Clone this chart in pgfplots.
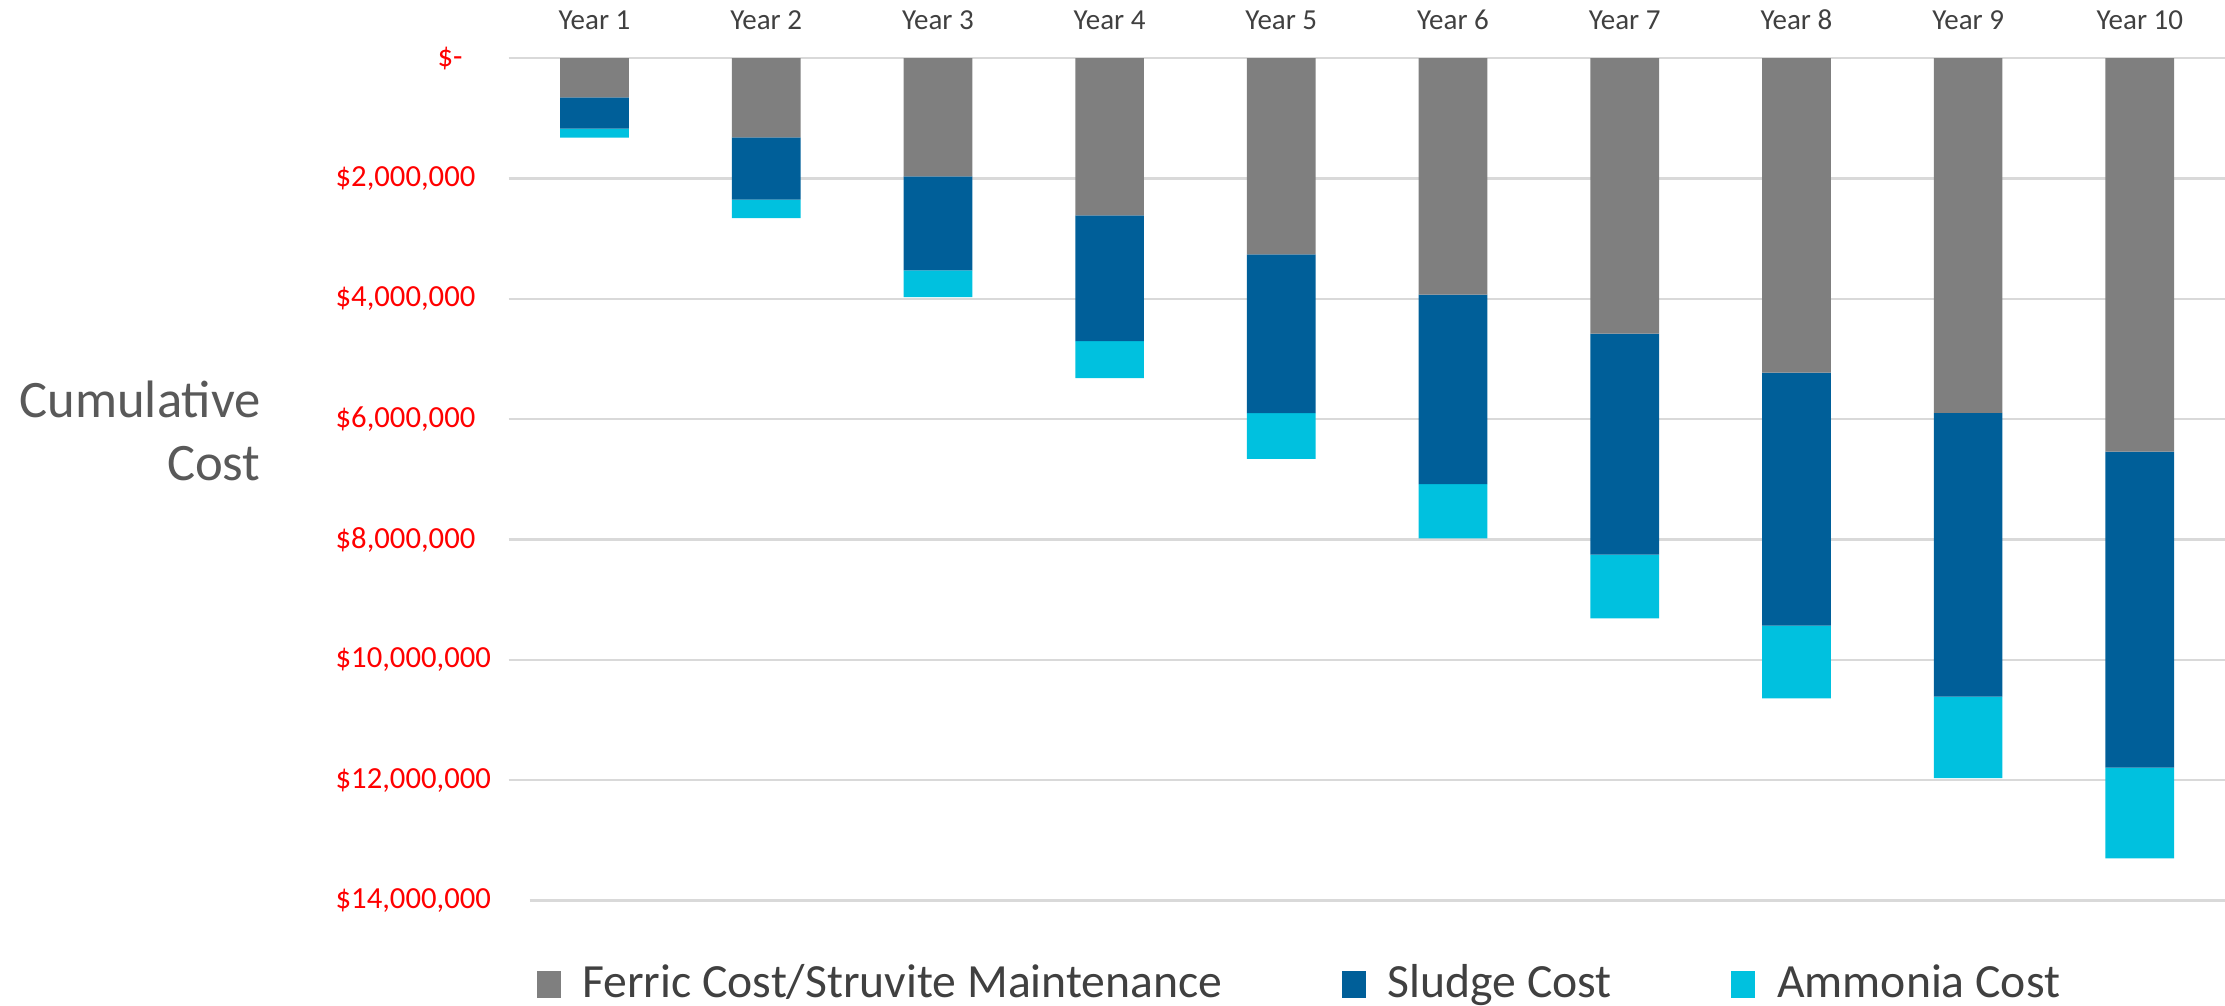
\documentclass[border=0pt]{standalone}
\usepackage{fontspec}
\setmainfont{Carlito}
\usepackage{pgfplots}
\pgfplotsset{compat=1.18}
\definecolor{ferric}{HTML}{7F7F7F}
\definecolor{sludge}{HTML}{005F99}
\definecolor{ammonia}{HTML}{00C1DF}
\definecolor{gridc}{HTML}{D9D9D9}
\definecolor{txt}{HTML}{404040}
\definecolor{lbl}{HTML}{595959}
\begin{document}
\begin{tikzpicture}
\useasboundingbox (0,0) rectangle (667.5pt,301.8pt);
\begin{axis}[
  at={(152.6pt,31.65pt)}, anchor=south west,
  width=515.1pt, height=252.7pt, scale only axis,
  ybar stacked, bar width=0.4,
  y dir=reverse,
  xmin=0.5, xmax=10.5, ymin=0, ymax=14000000,
  axis line style={draw=none},
  major tick length=0pt, tick style={draw=none},
  scaled y ticks=false,
  xtick={1,2,3,4,5,6,7,8,9,10},
  xticklabels={Year 1,Year 2,Year 3,Year 4,Year 5,Year 6,Year 7,Year 8,Year 9,Year 10},
  xticklabel pos=upper,
  xticklabel style={anchor=base, inner sep=0pt, yshift=8.7pt, font=\fontsize{8.7}{10}\selectfont, text=txt},
  ytick={2000000,4000000,6000000,8000000,10000000,12000000,14000000},
  yticklabels={{\$2,000,000},{\$4,000,000},{\$6,000,000},{\$8,000,000},{\$10,000,000},{\$12,000,000},{\$14,000,000}},
  yticklabel style={anchor=west, inner sep=0pt, xshift=-52.1pt, font=\fontsize{9.2}{11}\selectfont, text=red},
  extra y ticks={0},
  extra y tick labels={\$-},
  extra y tick style={yticklabel style={xshift=30.6pt}, grid style={draw=gridc, line width=0.75pt, shorten <=0pt}},
  ymajorgrids,
  grid style={draw=gridc, line width=0.75pt, shorten <=6.3pt},
  every axis y label/.style={at={(axis description cs:0,0.5)}, anchor=east, align=right, inner sep=0pt, xshift=-74.2pt, yshift=14.4pt, font=\fontsize{15.8}{18.9}\selectfont, text=lbl},
  ylabel={Cumulative\\Cost},
  legend columns=3,
  legend style={at={(axis description cs:0.0159,-0.0990)}, anchor=west, draw=none, fill=none, inner sep=0pt,
    font=\fontsize{14.3}{17}\selectfont, text=txt,
    cells={anchor=base west, inner sep=0pt},
    /tikz/every even column/.append style={column sep=33.9pt},
    /tikz/every odd column/.append style={column sep=4.5pt}},
  legend image code/.code={\fill[#1] (0pt,0pt) rectangle (7.2pt,8.1pt);},
]
\addplot[fill=ferric, draw=none] coordinates {(1,653000) (2,1316000) (3,1963000) (4,2615000) (5,3262000) (6,3930000) (7,4580000) (8,5227000) (9,5895000) (10,6540000)};
\addplot[fill=sludge, draw=none] coordinates {(1,519000) (2,1034000) (3,1564000) (4,2090000) (5,2638000) (6,3148000) (7,3670000) (8,4203000) (9,4715000) (10,5250000)};
\addplot[fill=ammonia, draw=none] coordinates {(1,150000) (2,310000) (3,443000) (4,612000) (5,758000) (6,902000) (7,1060000) (8,1210000) (9,1355000) (10,1510000)};
\legend{Ferric Cost/Struvite Maintenance, Sludge Cost, Ammonia Cost}
\end{axis}
\end{tikzpicture}
\end{document}
